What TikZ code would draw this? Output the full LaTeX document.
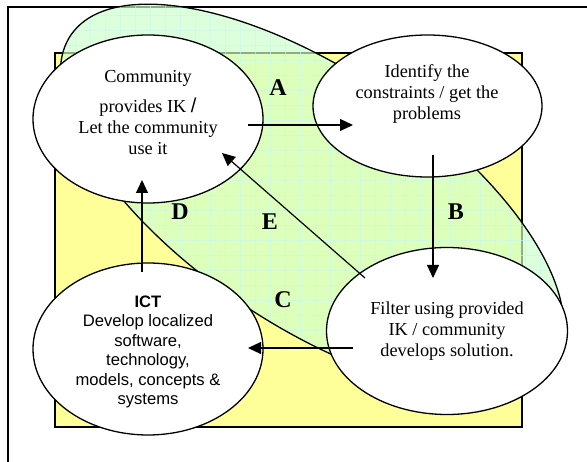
\documentclass[tikz,border=0pt]{standalone}
\usepackage{fontspec}
\setmainfont{Liberation Serif}
\setsansfont{Liberation Sans}
\usetikzlibrary{arrows.meta,shapes.geometric}
\definecolor{paleyellow}{HTML}{FFFF99}
\definecolor{palegreen}{HTML}{CCFFCC}
\definecolor{gridcyan}{HTML}{C8F8EE}
\begin{document}
\begin{tikzpicture}[x=1pt,y=-1pt,
  bubble/.style={ellipse,draw=black,line width=1.3pt,fill=white,inner sep=0pt},
  flow/.style={line width=1.2pt,-{Triangle[length=13pt,width=12pt]}},
  tag/.style={font=\bfseries\fontsize{24}{24}\selectfont},
  rtext/.style={align=center,font=\fontsize{18.3}{21}\selectfont},
  stext/.style={align=center,font=\sffamily\fontsize{16.6}{19.5}\selectfont},
  gridline/.style={gridcyan,line width=0.35pt,opacity=0.6}]
\useasboundingbox (0,0) rectangle (587,462);
\fill[white] (0,0) rectangle (587,462);

% page frame (only its top and left edges fall inside)
\draw[line width=1.6pt] (8,462) -- (8,7) -- (587,7);

% yellow backdrop
\draw[line width=1.2pt,fill=paleyellow] (55,53) rectangle (522,427);

% translucent green band with its faint grid
\fill[palegreen,fill opacity=0.68,rotate around={-34:(312,198)}] (312,198) ellipse [x radius=291,y radius=127];
\begin{scope}
  \clip[rotate around={-34:(312,198)}] (312,198) ellipse [x radius=291,y radius=127];
  \foreach \i in {0,...,40} {
    \draw[gridline] (\i*15,0) -- (\i*15,462);
  }
  \foreach \j in {0,...,31} {
    \draw[gridline] (0,\j*15) -- (587,\j*15);
  }
\end{scope}
\draw[line width=1.3pt,rotate around={-34:(312,198)}] (312,198) ellipse [x radius=291,y radius=127];

% the four stages
\node[bubble,minimum width=230pt,minimum height=168pt] (comm) at (148,119) {};
\node[bubble,minimum width=229pt,minimum height=142pt] (ident) at (427.5,106) {};
\node[bubble,minimum width=230pt,minimum height=172pt] (ict) at (148,349) {};
\node[bubble,minimum width=241pt,minimum height=167pt] (filt) at (447,331) {};

\node[rtext] (commtxt) at (148,113) {Community\\[9pt] provides IK {\sffamily\fontsize{20}{20}\selectfont /}\\ Let the community\\ use it};
\node[rtext] (identtxt) at (427,94) {Identify the\\ constraints / get the\\ problems};
\node[rtext] (filttxt) at (447,331) {Filter using provided\\ IK / community\\ develops solution.};
\node[stext] (icttxt) at (148,352) {\textbf{ICT}\\ Develop localized\\ software,\\ technology,\\ models, concepts \&\\ systems};

% connectors
\coordinate (a0) at (248,125); \coordinate (a1) at (353,125);
\coordinate (b0) at (433,155); \coordinate (b1) at (433,278);
\coordinate (c0) at (353,348); \coordinate (c1) at (248,348);
\coordinate (d0) at (142,272); \coordinate (d1) at (142,180);
\coordinate (e0) at (365,278); \coordinate (e1) at (222,153);
\draw[flow] (a0) -- (a1);
\draw[flow] (b0) -- (b1);
\draw[flow] (c0) -- (c1);
\draw[flow] (d0) -- (d1);
\draw[flow] (e0) -- (e1);

% stage labels
\node[tag] (la) at (278,88) {A};
\node[tag] (lb) at (456,212) {B};
\node[tag] (lc) at (283,300) {C};
\node[tag] (ld) at (180,212) {D};
\node[tag] (le) at (270,222) {E};
\end{tikzpicture}
\end{document}
